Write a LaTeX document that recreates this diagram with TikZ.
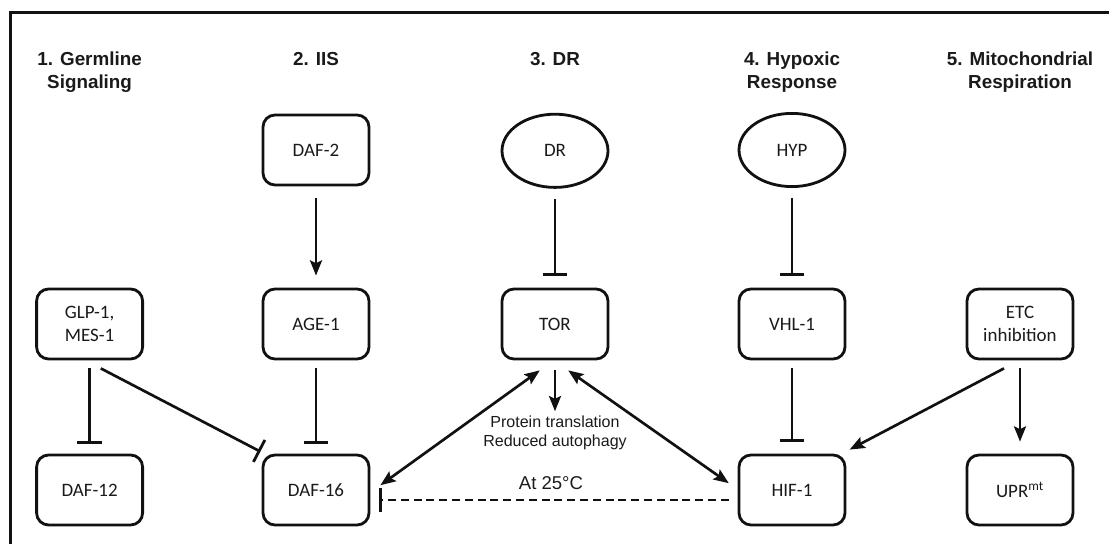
\documentclass[tikz,border=0pt]{standalone}
\usepackage{fontspec}
\setmainfont{Liberation Sans}
\newfontfamily\boxfont{Carlito}
\usetikzlibrary{shapes.geometric,arrows.meta}
\definecolor{PathInk}{HTML}{111111}
\definecolor{PathText}{HTML}{1A1A1A}

\begin{document}
\begin{tikzpicture}[x=1cm,y=1cm,
  box/.style={draw=PathInk,line width=2pt,rounded corners=0.3cm,minimum width=2.65cm,minimum height=1.75cm,align=center,font=\boxfont\fontsize{13.5}{16}\selectfont,text=PathText},
  oval/.style={draw=PathInk,line width=2pt,ellipse,minimum width=2.65cm,minimum height=1.83cm,inner sep=0pt,font=\boxfont\fontsize{13.5}{16}\selectfont,text=PathText},
  title/.style={anchor=north,align=center,inner sep=0pt,font=\bfseries\fontsize{13.4}{15.8}\selectfont,text=PathText},
  act/.style={draw=PathInk,line width=1.9pt,-{Stealth[length=0.38cm,width=0.3cm,inset=0.07cm]}},
  both/.style={draw=PathInk,line width=1.9pt,{Stealth[length=0.38cm,width=0.3cm,inset=0.07cm]}-{Stealth[length=0.38cm,width=0.3cm,inset=0.07cm]}},
  inh/.style={draw=PathInk,line width=1.9pt,-{Bar[width=0.62cm,line width=2pt]}}]
\path[use as bounding box] (0,0) rectangle (27.725,13.60);
\draw[PathInk,line width=2.4pt] (0.27,0) -- (0.27,13.29) -- (27.725,13.29);
\node[title] (tgerm) at (2.24,12.30) {1. Germline\\Signaling};
\node[title] (tiis) at (7.90,12.30) {2. IIS};
\node[title] (tdr) at (13.875,12.30) {3. DR};
\node[title] (thyp) at (19.80,12.30) {4. Hypoxic\\Response};
\node[title] (tmito) at (25.50,12.30) {5. Mitochondrial\\Respiration};
\node[box] (daf2) at (7.90,9.85) {DAF-2};
\node[oval] (dr) at (13.875,9.83) {DR};
\node[oval] (hyp) at (19.80,9.85) {HYP};
\node[box] (glp) at (2.24,5.50) {GLP-1,\\MES-1};
\node[box] (age) at (7.90,5.50) {AGE-1};
\node[box] (tor) at (13.875,5.50) {TOR};
\node[box] (vhl) at (19.80,5.50) {VHL-1};
\node[box] (etc) at (25.50,5.50) {ETC\\inhibition};
\node[box] (daf12) at (2.24,1.35) {DAF-12};
\node[box] (daf16) at (7.90,1.35) {DAF-16};
\node[box] (hif) at (19.80,1.35) {HIF-1};
\node[box] (upr) at (25.50,1.35) {UPR\textsuperscript{mt}};
\node[align=center,font=\fontsize{11.4}{13}\selectfont,text=PathText] (prot) at (13.875,2.78) {Protein translation\\Reduced autophagy};
\node[font=\fontsize{13.2}{15}\selectfont,text=PathText] (warm) at (13.775,1.52) {At 25\textdegree C};
\draw[act,shorten <=0.3cm,shorten >=0.3cm] (daf2) -- (age);
\draw[inh,shorten <=0.25cm,shorten >=0.3cm] (dr) -- (tor);
\draw[inh,shorten <=0.25cm,shorten >=0.3cm] (hyp) -- (vhl);
\draw[inh,shorten <=0.2cm,shorten >=0.25cm] (glp) -- (daf12);
\draw[inh,shorten <=0.2cm,shorten >=0.25cm] (age) -- (daf16);
\draw[inh,shorten <=0.2cm,shorten >=0.3cm] (vhl) -- (hif);
\draw[act,shorten <=0.2cm,shorten >=0.3cm] (etc) -- (upr);
\draw[inh] ([xshift=0.28cm,yshift=-0.2cm]glp.south) -- ([xshift=-0.03cm,yshift=0.05cm]daf16.north west);
\draw[act,shorten <=0.25cm] (tor) -- (prot);
\draw[both] ([xshift=-0.38cm,yshift=-0.25cm]tor.south) -- ([xshift=0.25cm,yshift=0.12cm]daf16.east);
\draw[both] ([xshift=0.33cm,yshift=-0.25cm]tor.south) -- ([xshift=-0.22cm,yshift=0.17cm]hif.west);
\draw[act] ([xshift=-0.4cm,yshift=-0.2cm]etc.south) -- ([xshift=0.08cm,yshift=0.1cm]hif.north east);
\draw[inh,dash pattern=on 0.2cm off 0.12cm] ([xshift=-0.22cm,yshift=-0.25cm]hif.west) -- ([xshift=0.22cm,yshift=-0.25cm]daf16.east);
\end{tikzpicture}
\end{document}
